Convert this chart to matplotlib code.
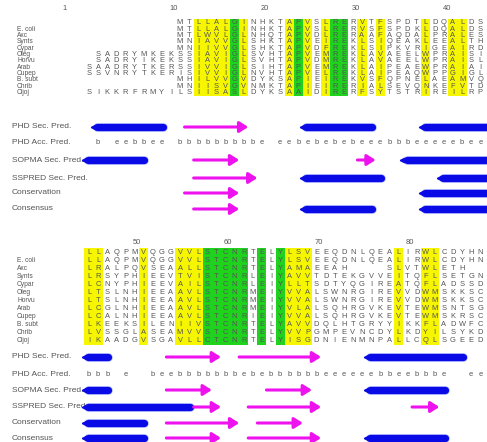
import matplotlib.pyplot as plt

plt.rcParams['font.family'] = ['Liberation Sans', 'DejaVu Sans']

# row labels (first row of each block carries no label)
species = ['', 'E. coli', 'Axc', 'Synts', 'Cypar', 'Oleg', 'Horvu', 'Arab',
           'Cupep', 'B. subt', 'Chrib', 'Cijoj']

# alignment, columns 1-44
top_seqs = [
    '----------MTLLALGINHKTAPVSLRERVTFSPDTLDQALDS',
    '----------MTLLALGINHKTAPVSLRERVSFSPDKLDQALDS',
    '----------MTLWVLGLNHQTAPVDLRERAAFAQDALPRALES',
    '----------MNIAVVGLSHKTAPVEIREKLSIQEAKLEEALTH',
    '----------MNIIVVGLSHKTAPVDFREKLSIPKVRIGEAIRD',
    '-SADRYMKEKSSIAVIGLSVHTAPVEMREKLAVAEELWPRAISI',
    '-SADRYIKEKSSIAVIGLSVHTAPVDMREKLAVAEELWPRAISL',
    'SAADRYTKERSSIVVIGLSIHTAPVEMREKLAIPEAEWPRAIAI',
    'SSVNRYTKERISIVVIGLNVHTAPVELREKLAIPEAQWPPGIGL',
    '----------MHILVVGVDYKSAPIEIREKVSFQPNELAEAMVQ',
    '----------MNIISVGVNMKTAPIEIRERIALSEVQNKEFVTD',
    'SIKKRFRMYILSIISASLDYKSAAIDIRERFSYTSTRIREILRP',
]

# alignment, columns 45-88
bot_seqs = [
    'LLAQPMVQGGVVLSTCNRTELYLSVEEQDNLQEALIRWLCDYHN',
    'LLAQPMVQGGVVLSTCNRTELYLSVEEQDNLQEALIRWLCDYHN',
    'LRALPQVSEAALLSTCNRTELYAMAEEAH----SLVTWLETH--',
    'LRSYPHIEEVTVISTCNRLEIYAVVTDTEKGVVEITQFLSETGN',
    'LCNYPHIEEVAILSTCNRLEIYLLTSDTYQGIREATQFLADSSD',
    'LTSLNHIEEAAVLSTCNRMEIYVVALSWNRGIREVVDWMSKKSC',
    'LTSLNHIEEAAVLSTCNRMEIYVVALSWNRGIREVVDWMSKKSC',
    'LCGLNHIEEAAVLSTCNRMEIYVLALSQHRGVKEVTEWMSNTSG',
    'LCALNHIEEAAVLSTCNRIEIYVVALSQHRGVKEVTEWMSKRSC',
    'LKEEKSILENIIVSTCNRTELYAVVDQLHTGRYYIKKFLADWFC',
    'LVSSGLASEAMVVSTCNRTELYVVPGMPEVNCDYLKDYILSYKD',
    'IKAADGVSGAVLLCTCNRTELYISGDNIENMNPALLCQLSGEED',
]

top_numbers = [1, 10, 20, 30, 40]
bot_numbers = [50, 60, 70, 80]

yellow_cols = [13, 14, 15, 16, 18, 23, 25, 27, 31, 33, 38, 41, 42,
               45, 46, 51, 55, 56, 57, 67, 68, 69, 79, 82, 83]
green_cols = [17, 24, 28, 29, 58, 59, 60, 61, 62, 64, 66]

pred_labels = ['PHD Sec. Pred.', 'PHD Acc. Pred.', 'SOPMA Sec. Pred.',
               'SSPRED Sec. Pred.', 'Conservation', 'Consensus']

top_acc = ' b eebbee bbbbbbbbbe eebebebebeeebbbeeeeebee'
bot_acc = 'bbb e  beebbbbbbbe' + 'bebbbbbbeeeeeebbeebbbe' + '  ee'

# secondary structure tracks: (kind, first residue, last residue)
top_tracks = {
    'PHD Sec. Pred.': [('H', 2, 9), ('E', 12, 18), ('H', 25, 32), ('H', 38, 50)],
    'SOPMA Sec. Pred.': [('H', 1, 7), ('E', 13, 17), ('E', 31, 32), ('H', 36, 50)],
    'SSPRED Sec. Pred.': [('E', 13, 19), ('H', 25, 33), ('H', 40, 50)],
    'Conservation': [('E', 12, 17), ('H', 38, 50)],
    'Consensus': [('E', 13, 17), ('H', 25, 32), ('H', 38, 50)],
}
bot_tracks = {
    'PHD Sec. Pred.': [('H', 45, 47), ('E', 54, 59), ('E', 62, 70), ('H', 76, 86)],
    'SOPMA Sec. Pred.': [('H', 45, 47), ('E', 54, 58), ('E', 65, 69), ('H', 76, 84)],
    'SSPRED Sec. Pred.': [('H', 45, 56), ('E', 57, 59), ('E', 63, 70), ('E', 81, 83)],
    'Conservation': [('H', 45, 51), ('E', 54, 61), ('E', 64, 68)],
    'Consensus': [('H', 45, 51), ('E', 54, 59), ('E', 63, 70), ('H', 76, 84)],
}

BLUE = '#0a0ae6'
PINK = '#ee12ee'
GREY = '#555555'
FS = 5.4

fig = plt.figure(figsize=(4.87, 4.42), dpi=100)
ax = fig.add_axes([0, 0, 1, 1])
ax.set_xlim(-8.78, 44.74)
ax.set_ylim(442, 0)
ax.axis('off')


def helix(x0, x1, y):
    ax.plot([x0 + 0.4, x1 - 0.4], [y, y], color='#a8b4ff', lw=6.2,
            solid_capstyle='round', zorder=3)
    ax.plot([x0 + 0.4, x1 - 0.4], [y, y], color=BLUE, lw=5.2,
            solid_capstyle='round', zorder=4)
    ax.plot(x0 - 0.05, y, marker='<', ms=3.2, color=BLUE, zorder=4)


def strand(x0, x1, y):
    ax.annotate('', xy=(x1, y), xytext=(x0, y),
                arrowprops=dict(arrowstyle='-|>,head_length=0.5,head_width=0.32',
                                color=PINK, lw=2.2, shrinkA=0, shrinkB=0,
                                mutation_scale=10), zorder=4)


def block(seqs, first_col, numbers, num_y, y0, dy, pred_y, acc, tracks):
    ncol = len(seqs[0])
    ys = [y0 + i * dy for i in range(len(seqs))]
    top, bottom = ys[0] - dy / 2 - 0.5, ys[-1] + dy / 2 + 0.5
    for c in range(first_col, first_col + ncol):
        x = c - first_col + 1
        if c in yellow_cols:
            ax.bar(x, bottom - top, bottom=top, width=1.0, color='#f6f600', zorder=1)
        if c in green_cols:
            ax.bar(x, bottom - top, bottom=top, width=1.0, color='#1ed21e', zorder=1)
    for n in numbers:
        x = n - first_col + 1
        if n == 1:
            x = -2
        ax.text(x + 0.3, num_y, str(n), ha='center', va='center', fontsize=FS, color=GREY)
    for lab, seq, y in zip(species, seqs, ys):
        ax.text(-6.9, y, lab, ha='left', va='center', fontsize=4.8, color=GREY)
        for i, ch in enumerate(seq):
            if ch != '-':
                ax.text(i + 1, y, ch, ha='center', va='center', fontsize=FS,
                        color=GREY, zorder=2)
    for lab, y in zip(pred_labels, pred_y):
        ax.text(-7.45, y, lab, ha='left', va='center', fontsize=6.0, color=GREY)
        if lab == 'PHD Acc. Pred.':
            for i, ch in enumerate(acc):
                if ch != ' ':
                    ax.text(i + 1, y, ch, ha='center', va='center', fontsize=FS,
                            color=GREY)
            continue
        for kind, s, e in tracks[lab]:
            x0 = s - first_col + 0.5
            x1 = e - first_col + 1.5
            if kind == 'H':
                helix(x0, x1, y)
            else:
                strand(x0, x1, y)


block(top_seqs, 1, top_numbers, 8, 23, 6.3,
      [127, 142, 160, 178, 193, 209], top_acc, top_tracks)
block(bot_seqs, 45, bot_numbers, 243, 252, 8.0,
      [357, 375, 390, 407, 423, 438], bot_acc, bot_tracks)

fig.savefig('out.png', dpi=100)
